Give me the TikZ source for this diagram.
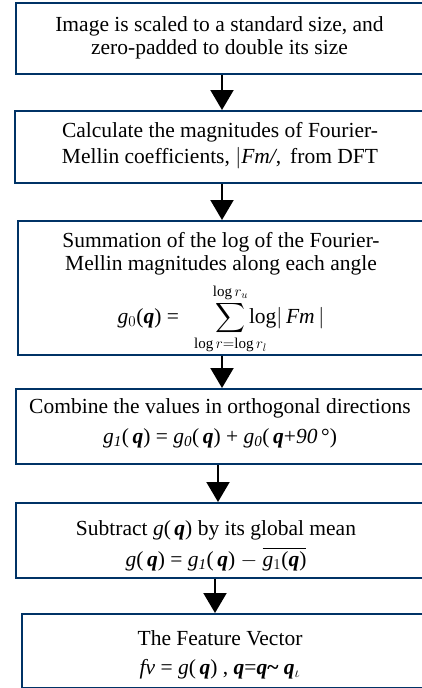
\RequirePackage{fix-cm}
\documentclass[tikz,border=0pt]{standalone}
\usepackage{exscale}
\usepackage{fontspec}
\setmainfont{Liberation Serif}
\usetikzlibrary{arrows.meta}
\definecolor{boxblue}{RGB}{0,51,102}
\newcommand{\vq}{\textbf{\textit{q}}}
\newcommand{\sumlim}[1]{\makebox[0pt]{$\scriptstyle #1$}}

\begin{document}
\begin{tikzpicture}[x=1pt, y=-1pt,
  box/.style={draw=boxblue, line width=2pt, rectangle, inner sep=0pt, anchor=north west},
  txt/.style={align=center, inner sep=0pt, font=\fontsize{21.5}{23}\selectfont},
  arr/.style={line width=2pt, -{Triangle[length=20pt, width=23pt]}}]
\useasboundingbox (0,0) rectangle (422,688);

\foreach \n/\l/\t/\h in {1/15/2/71, 2/14/110/72, 3/17/220/134, 4/15/388/75, 5/15/502/75, 6/21/613/74}
  \node [box, minimum width={(432-\l)*1pt}, minimum height={\h*1pt}] (b\n) at (\l,\t) {};

\node [txt] (t1) at (219.5,37.5) {Image is scaled to a standard size, and\\zero-padded to double its size};
\node [txt] (t2) at (220,146) {Calculate the magnitudes of Fourier-\\[3pt]Mellin coefficients, $|$\textit{Fm/},\, from DFT};
\node [txt] (t3) at (221,293) {Summation of the log of the Fourier-\\Mellin magnitudes along each angle\\[8pt]
  \textit{g}$_0$(\vq) =\hspace{1.7em}$\displaystyle\sum_{\sumlim{\log r=\log r_l}}^{\sumlim{\log r_u}}$\,log$|$\,\textit{Fm}\,$|$};
\node [txt] (t4) at (220,423) {Combine the values in orthogonal directions\\[7pt]
  \textit{g}$_{\mathit 1}$(\,\vq) = \textit{g}$_{\mathit 0}$(\,\vq) + \textit{g}$_{\mathit 0}$(\,\vq+\textit{90}\,°)};
\node [txt] (t5) at (216,546) {Subtract \textit{g}(\,\vq) by its global mean\\[6pt]
  \textit{g}(\,\vq) = \textit{g}$_{\mathit 1}$(\,\vq) $-$\ $\overline{\mbox{\textit{g}$_1$(\vq)}}$};
\node [txt] (t6) at (220,655) {The Feature Vector\\[6pt]
  \textit{fv} = \textit{g}(\,\vq) ,\ \vq=\vq\textbf{\textasciitilde}\ \vq$_{\iota}$};

\foreach \n/\x in {1/222, 2/222, 3/222, 4/218, 5/215}
  \coordinate (a\n) at (\x,0);
\foreach \a/\b in {1/2, 2/3, 3/4, 4/5, 5/6}
  \draw [arr] (b\a.south -| a\a) -- (b\b.north -| a\a);

\end{tikzpicture}
\end{document}
